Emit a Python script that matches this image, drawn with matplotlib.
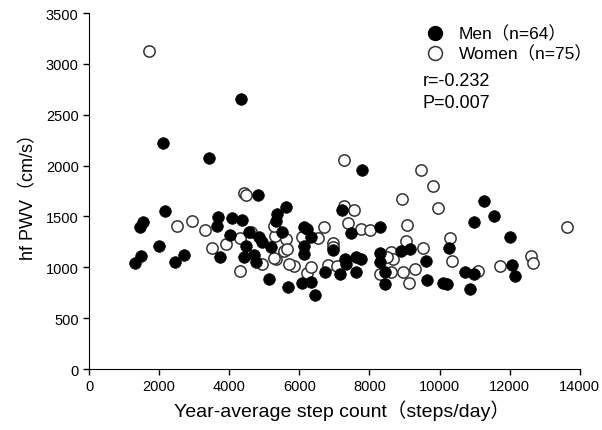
import matplotlib
matplotlib.use("Agg")
import matplotlib.pyplot as plt
from matplotlib.lines import Line2D

# values (steps/day, cm/s)
men_steps = [4335, 2096, 3428, 7791, 4816, 2153, 1530, 1445, 1983, 1303,
             1473, 2465, 2720, 3683, 3655, 4080, 4363, 4023, 3740, 4561,
             4476, 4420, 4845, 4930, 4703, 4760, 5128, 5184, 5609, 5354,
             5326, 7224, 7479, 8300, 6119, 6204, 5496, 6318, 6119, 6119,
             6969, 7621, 7337, 7309, 7621, 7762, 6743, 7167, 6062, 6346,
             6459, 5666, 8300, 8300, 8442, 8442, 8896, 9151, 9604, 9632,
             11275, 11558, 10992, 12012, 10284, 10085, 10199, 10737, 10992, 10879,
             12069, 12154]
men_pwv = [2657, 2224, 2076, 1958, 1712, 1555, 1446, 1397, 1210, 1043,
           1112, 1053, 1122, 1496, 1407, 1486, 1466, 1318, 1102, 1348,
           1210, 1102, 1299, 1250, 1122, 1053, 886, 1200, 1594, 1525,
           1456, 1565, 1338, 1397, 1397, 1378, 1348, 1299, 1132, 1210,
           1171, 1102, 1033, 1082, 954, 1082, 954, 935, 846, 856,
           728, 807, 1141, 1053, 954, 836, 1161, 1181, 1063, 876,
           1653, 1506, 1447, 1299, 1191, 846, 836, 954, 935, 787,
           1023, 915]

women_steps = [1700, 2521, 2946, 3315, 3513, 3910, 4306, 4306, 4618, 4930,
               5298, 5326, 4420, 4476, 7281, 9462, 9802, 8924, 9944, 7281,
               7564, 7394, 7762, 8017, 6714, 5609, 6062, 6544, 6969, 5553,
               5269, 5836, 5694, 6828, 7082, 6204, 8612, 8669, 8612, 9066,
               9037, 9519, 8952, 9292, 9122, 8300, 13627, 10312, 10369, 11105,
               11729, 12607, 12664, 5269, 5638, 6969, 6346, 8500]
women_pwv = [3129, 1407, 1456, 1368, 1191, 1230, 1289, 964, 1348, 1033,
             1309, 1082, 1732, 1712, 2057, 1958, 1801, 1673, 1584, 1604,
             1565, 1437, 1378, 1368, 1397, 1279, 1299, 1289, 1240, 1161,
             1092, 1014, 1033, 1023, 1014, 945, 1151, 1082, 954, 1417,
             1260, 1191, 954, 984, 846, 935, 1397, 1289, 1063, 964,
             1014, 1112, 1043, 1407, 1181, 1200, 1000, 1100]

x_ticks = [0, 2000, 4000, 6000, 8000, 10000, 12000, 14000]
y_ticks = [0, 500, 1000, 1500, 2000, 2500, 3000, 3500]

plt.rcParams['font.family'] = ['Liberation Sans', 'Noto Sans CJK JP', 'DejaVu Sans']

fig = plt.figure(figsize=(6.02, 4.31), dpi=100)
ax = fig.add_axes([0.148, 0.1415, 0.815, 0.826])

ax.scatter(women_steps, women_pwv, s=66, facecolors='white', edgecolors='#333333',
           linewidths=1.1, zorder=2)
ax.scatter(men_steps, men_pwv, s=70, facecolors='black', edgecolors='black',
           linewidths=0.5, zorder=3)

ax.set_xlim(0, 14000)
ax.set_ylim(0, 3500)
ax.set_xticks(x_ticks)
ax.set_yticks(y_ticks)
ax.spines['top'].set_visible(False)
ax.spines['right'].set_visible(False)
ax.tick_params(direction='out', length=4, width=1, labelsize=10.5)

ax.set_xlabel('Year-average step count（steps/day）', fontsize=14, labelpad=3)
ax.xaxis.set_label_coords(0.515, -0.085)
ax.set_ylabel('hf PWV（cm/s）', fontsize=13, labelpad=6)

handles = [
    Line2D([], [], marker='o', ls='none', ms=10, mfc='black', mec='black'),
    Line2D([], [], marker='o', ls='none', ms=10, mfc='white', mec='#333333', mew=1.1),
]
ax.legend(handles, ['Men（n=64）', 'Women（n=75）'], loc='upper left',
          bbox_to_anchor=(0.655, 0.985), frameon=False, fontsize=12.5,
          handletextpad=0.4, labelspacing=0.2, borderaxespad=0)
ax.text(0.68, 0.81, 'r=-0.232', transform=ax.transAxes, fontsize=13, va='center')
ax.text(0.68, 0.75, 'P=0.007', transform=ax.transAxes, fontsize=13, va='center')

fig.savefig('out.png', dpi=100)
